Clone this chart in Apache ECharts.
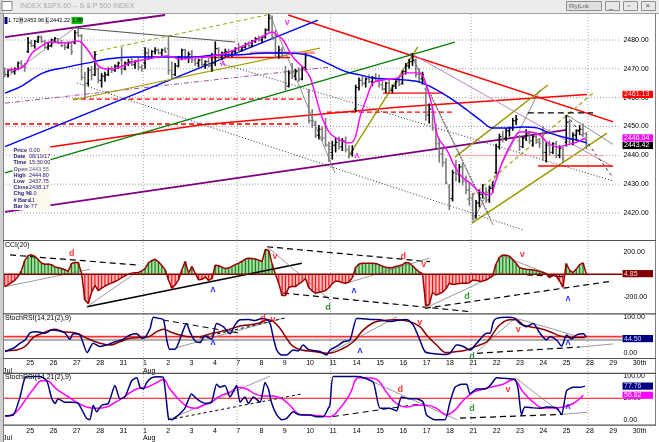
<!DOCTYPE html>
<html><head><meta charset="utf-8">
<script src="https://cdn.jsdelivr.net/npm/echarts@6/dist/echarts.min.js"></script>
<style>html,body{margin:0;padding:0;background:#fff;}#c{width:659px;height:442px;}</style>
</head><body><div id="c"></div>
<script>
// ---------- DATA ----------
const dayLabels = ['', '25','26','27','28','31','1','2','3','4','7','8','9','10','11','14','15','16','17','18','21','22','23','24','25','28','29','30th'];
const monthLabels = ['Jul','','','','','','Aug'];
const vGridDays = [6, 10, 14, 20, 25];
const priceGridLevels = [2420, 2430, 2440, 2450, 2460, 2470, 2480];

// hourly OHLC bars [open, high, low, close], 7 per day, Jul 24 .. Aug 25
const priceBars = [
[2469,2470.5,2467,2468],[2468,2470,2467,2469.5],[2469.5,2470.5,2468.5,2469],[2469,2470.5,2468,2470],[2470,2472.5,2469.5,2472],[2472,2473,2470.5,2471],[2471,2472,2469,2470.5],
[2476,2481,2475.5,2479],[2479,2480,2477.5,2478],[2478,2480,2477,2479.5],[2479.5,2481.5,2479,2481],[2481,2481.5,2479,2479.5],[2479.5,2480,2477,2477.5],[2477.5,2479,2476.5,2478],
[2478,2480.5,2477.5,2480],[2480,2481,2479,2480.5],[2480.5,2480.5,2478.5,2479],[2479,2480,2477.5,2478],[2478,2479,2476.5,2477.5],[2477.5,2479.5,2477,2479],[2479,2479.5,2474.8,2476],
[2479,2483.5,2478.5,2482.5],[2482.5,2484,2481,2481.5],[2481.5,2482,2466,2467],[2467,2469,2459.5,2465],[2465,2470.5,2464,2469.5],[2469.5,2471,2466,2468],[2468,2476,2467.5,2475],
[2470,2470.5,2465,2466],[2466,2468.5,2463.5,2467.5],[2467.5,2469,2465.5,2468],[2468,2470.5,2467.5,2470],[2470,2471,2468.5,2469.5],[2469.5,2471.5,2469,2471],[2471,2472.5,2470,2472],
[2473,2477.5,2468,2470],[2470,2472.5,2469.5,2472],[2472,2473.5,2471,2472.5],[2472.5,2474,2471,2471.5],[2471.5,2473,2470,2472.5],[2472.5,2474,2469.5,2470.5],[2470.5,2471.5,2469,2470],
[2472,2477.5,2470,2475.5],[2475.5,2477,2473,2474],[2474,2476.5,2473.5,2476],[2476,2477.5,2475,2476.5],[2476.5,2477,2475,2475.5],[2475.5,2477,2474.5,2476.5],[2476.5,2477.5,2475.5,2476],
[2477,2481,2468,2469.5],[2469.5,2472.5,2466.5,2468],[2468,2472,2467.5,2471],[2471,2474.5,2470.5,2474],[2474,2477,2473,2476.5],[2476.5,2477,2473,2474],[2474,2476,2472,2475],
[2475,2476.5,2472,2473],[2473,2474.5,2471,2472],[2472,2473.5,2470.5,2473],[2473,2474,2471,2471.5],[2471.5,2473,2470,2472.5],[2472.5,2474,2470.5,2471],[2471,2475.5,2469,2472],
[2472,2479.5,2471,2477],[2477,2477.5,2473.5,2474],[2474,2476,2473,2475.5],[2475.5,2477,2474,2476],[2476,2477,2474.5,2475],[2475,2476.5,2474,2476],[2476,2477.5,2475.5,2477],
[2477,2479,2475.5,2476.5],[2476.5,2478,2476,2477.5],[2477.5,2479,2477,2478.5],[2478.5,2479.5,2477.5,2478],[2478,2480,2477.5,2479.5],[2479.5,2481,2479,2480.5],[2480.5,2481.5,2479.5,2480],
[2480,2481.5,2479,2481],[2481,2484,2480.5,2483.5],[2483.5,2489,2483,2487.5],[2487.5,2488.5,2480,2481],[2481,2483.5,2474,2475.5],[2475.5,2478,2473.5,2476.5],[2476.5,2477.5,2473.5,2474.5],
[2469,2471,2462.5,2464],[2464,2469.5,2463.5,2468.5],[2468.5,2472,2466.5,2467.5],[2467.5,2470,2466,2469],[2469,2470.5,2465.5,2466.5],[2466.5,2471,2466,2470.5],[2470.5,2475.5,2469.5,2474.5],
[2462,2463,2451,2452],[2452,2456,2449.5,2450.5],[2450.5,2452,2446,2447],[2447,2450.5,2445.5,2449],[2449,2450,2445,2446],[2446,2453,2443,2443.55],[2443.55,2444.8,2437.75,2438.17],
[2441,2445,2438.5,2443.5],[2443.5,2446,2441,2444.5],[2444.5,2446.5,2442,2443],[2443,2446,2441.5,2445],[2445,2446.5,2441,2442],[2442,2443.5,2439,2440.5],[2440.5,2443.5,2439.5,2442],
[2456,2464.5,2455,2463.5],[2463.5,2467,2462.5,2466],[2466,2467.5,2464,2465],[2465,2467,2463.5,2466.5],[2466.5,2468,2465,2465.5],[2465.5,2467.5,2464,2467],[2467,2468.5,2465.5,2466],
[2466,2468,2463.5,2464.5],[2464.5,2466.5,2462.5,2463],[2463,2465.5,2461.5,2465],[2465,2466.5,2462,2462.5],[2462.5,2464.5,2461.5,2464],[2464,2466,2463,2465.5],[2465.5,2467,2464,2464.5],
[2465,2469.5,2464.5,2469],[2469,2472,2468,2471],[2471,2473.5,2470,2472.5],[2472.5,2475.5,2471,2473],[2473,2473.5,2467,2468],[2468,2470,2465,2466.5],[2466.5,2469,2464.5,2468],
[2463,2463.5,2452,2454],[2454,2458,2451,2456],[2456,2457,2448.5,2449.5],[2449.5,2451,2442.5,2444],[2444,2446,2437.5,2440.5],[2440.5,2442.5,2436,2437.5],[2437.5,2439,2430,2430.5],
[2429,2430,2421,2425],[2425,2435,2424,2434],[2434,2438.5,2431,2433.5],[2433.5,2437,2430.5,2436],[2436,2437.5,2429.5,2431],[2431,2433,2426.5,2428],[2428,2430.5,2422.5,2425.5],
[2425,2427,2417.5,2419],[2419,2424.5,2418,2423.5],[2423.5,2428,2422,2426.5],[2426.5,2430,2425,2427],[2427,2429,2423.5,2424.5],[2424.5,2429.5,2423.5,2428.5],[2428.5,2431,2427,2429.5],
[2434,2444,2433.5,2443],[2443,2447.5,2442,2446.5],[2446.5,2448.5,2444.5,2446],[2446,2449.5,2445,2448.5],[2448.5,2450,2446.5,2449.5],[2449.5,2453,2448.5,2452],[2452,2454,2450.5,2452.5],
[2445,2447,2441.5,2443],[2443,2446.5,2442.5,2446],[2446,2449,2445,2447.5],[2447.5,2448.5,2444,2445],[2445,2447,2443,2446.5],[2446.5,2448,2444,2444.5],[2444.5,2446,2442.5,2444],
[2446,2450,2438,2441],[2441,2444.5,2437.5,2443.5],[2443.5,2445,2440,2441],[2441,2444.5,2440.5,2444],[2444,2445,2439,2440],[2440,2443.5,2439,2442.5],[2442.5,2443,2437.5,2439],
[2444.5,2453.96,2443,2451.5],[2451.5,2452.5,2444,2445.5],[2445.5,2448,2443.5,2447],[2447,2449,2445,2448.5],[2448.5,2450.5,2447,2449],[2449,2451,2446.5,2447.5],[2447.5,2448,2442.22,2443.42]
];

// moving averages [bar index, price]
const pinkMA = [[0.7,2469.6],[5.5,2470.6],[8.2,2475.5],[10.6,2477.6],[13.6,2479.3],[18.6,2479.0],[21.6,2479.7],[23.1,2479.0],[25.5,2475.5],[28.5,2470.6],[31.5,2469.9],[34.5,2470.6],[38.4,2472.4],[41.4,2473.1],[45.6,2474.1],[48.6,2474.5],[52.4,2473.4],[56.3,2473.8],[60.5,2474.1],[63.8,2474.8],[66.5,2475.5],[73.4,2479.0],[77.9,2481.7],[80.0,2482.8],[81.5,2481.7],[83.3,2480.0],[86.2,2474.1],[89.2,2470.6],[91.3,2467.2],[92.8,2461.6],[94.9,2453.3],[97.3,2447.7],[100.3,2445.3],[103.3,2444.3],[104.8,2446.0],[106.3,2453.3],[108.4,2460.2],[110.2,2465.1],[113.2,2466.1],[117.4,2466.8],[120.3,2468.6],[124.2,2468.6],[126.3,2463.7],[128.1,2455.7],[129.6,2446.4],[132.3,2441.8],[134.7,2436.0],[136.8,2432.5],[139.2,2430.4],[142.2,2427.3],[145.2,2426.2],[146.7,2430.4],[149.1,2438.4],[152.1,2445.3],[154.2,2448.1],[157.1,2448.1],[160.1,2447.0],[162.2,2444.6],[165.2,2442.9],[168.2,2443.6],[171.2,2444.6],[173.6,2446.04]];
const blueMA = [[0.1,2461.6],[4.6,2463.7],[11.5,2468.6],[18.6,2470.6],[24.6,2472.0],[30.6,2473.4],[38.4,2474.1],[48.6,2474.1],[56.3,2474.1],[63.8,2474.8],[68.3,2474.8],[78.5,2475.5],[84.5,2475.5],[90.4,2474.8],[96.4,2472.0],[102.4,2468.9],[106.3,2467.9],[110.2,2466.8],[114.4,2466.5],[120.3,2466.1],[124.2,2465.4],[128.1,2463.4],[133.2,2459.9],[138.3,2455.7],[142.2,2452.3],[145.8,2449.5],[150.3,2449.5],[155.1,2449.8],[159.2,2449.5],[163.1,2447.7],[168.2,2446.0],[171.2,2445.3],[174.2,2444.3]];

// CCI(20) per bar
const cciValues = [
-110,-95,-75,-55,-20,30,120, 165,172,160,130,100,88,90, 85,65,58,50,40,25,95, 104,104,9,-230,-260,-160,-100,
-145,-124,-105,-90,-78,-65,-50, -30,-15,0,9,12,15,30, 50,100,120,133,110,78,38, -50,-124,-95,-50,38,113,9,
68,9,-50,-45,-25,-55,-40, 80,75,62,50,55,70,85, 98,115,135,142,140,135,125, 113,220,210,90,0,-80,-190,
-190,-115,-110,-110,-85,-65,-40, -120,-150,-169,-160,-154,-145,-120, -85,-60,-65,-75,-80,-70,-30,
60,90,98,98,98,98,95, 85,70,62,55,60,68,75, 85,105,100,75,45,20,5, -280,-270,-160,-185,-175,-160,-130,
-80,-92,-88,-82,-80,-80,-75, -52,-55,-62,-60,-52,-35,-10, 90,150,170,168,160,130,95,
58,50,45,42,38,32,25, 15,5,-30,-10,-18,-60,-115, 95,35,15,45,85,100,4.85];

// StochRSI(14,21(2),9)
const srsiFast = [[0.1,5],[2.6,14],[4.6,28],[6.1,37],[7.6,57],[9.6,60],[12.1,56],[14.1,65],[16.0,63],[18.0,57],[19.5,39],[20.5,54],[22.5,51],[24.7,2],[26.5,28],[28.5,19],[30.5,23],[33.0,32],[35.5,39],[37.5,51],[39.5,54],[41.0,42],[42.0,44],[43.5,69],[44.5,100],[46.0,97],[47.5,93],[48.5,37],[49.4,11],[50.9,11],[52.9,51],[54.4,83],[55.4,60],[56.9,35],[58.4,30],[59.9,48],[61.9,39],[63.4,83],[65.4,74],[67.4,54],[68.9,79],[70.4,93],[72.9,94],[74.9,91],[76.9,97],[78.4,94],[79.4,83],[80.4,42],[81.4,9],[82.9,-5],[84.3,-5],[86.3,9],[87.8,7],[89.3,23],[90.8,11],[92.8,7],[94.3,5],[96.3,-5],[97.3,9],[99.3,19],[101.3,32],[103.3,37],[105.3,97],[106.3,97],[109.3,94],[112.3,93],[115.2,88],[117.2,91],[120.2,94],[122.2,79],[124.2,37],[125.7,5],[127.2,0],[131.2,-3],[133.2,0],[135.2,23],[137.2,19],[139.2,9],[141.2,28],[144.2,56],[145.2,56],[146.2,88],[147.2,97],[150.1,100],[152.6,97],[154.1,83],[156.1,74],[158.1,83],[160.1,56],[162.1,37],[163.1,46],[165.1,37],[166.6,20],[168.1,51],[169.6,39],[171.1,51],[173.1,54],[174.0,44.5]];
const srsiSlow = [[0.1,7],[3.6,9],[6.1,19],[8.6,44],[11.6,57],[15.0,67],[17.5,60],[21.5,56],[24.5,42],[28.5,28],[31.5,23],[34.5,32],[37.5,42],[40.5,44],[43.0,46],[45.5,60],[47.5,67],[49.4,60],[52.4,51],[55.4,46],[58.4,46],[61.4,54],[64.4,60],[67.4,67],[70.4,76],[73.4,79],[76.4,85],[78.9,93],[80.4,88],[82.4,69],[84.3,42],[86.3,19],[88.8,9],[92.3,5],[96.8,0],[101.3,14],[104.3,32],[107.3,65],[110.3,85],[113.3,91],[117.2,93],[121.2,88],[124.2,74],[126.2,51],[129.2,23],[132.2,2],[135.2,5],[138.2,9],[141.2,20],[144.2,32],[146.2,56],[148.1,79],[151.1,93],[153.1,93],[155.1,79],[157.1,74],[160.1,69],[163.1,60],[166.1,48],[169.1,44],[172.1,44],[173.6,44]];

// Stoch lower panel
const stochFast = [[0.1,10],[2.6,12],[4.6,53],[6.1,97],[8.1,100],[10.6,100],[12.6,90],[14.1,49],[15.1,38],[16.0,49],[18.0,41],[20.0,41],[22.0,38],[24.5,4],[25.5,1],[26.5,34],[27.5,19],[29.0,34],[31.0,38],[33.0,79],[34.5,49],[36.0,53],[38.0,90],[39.5,97],[40.5,75],[41.5,71],[42.5,86],[44.0,97],[46.0,99],[47.5,97],[49.0,4],[49.9,1],[51.4,8],[53.9,27],[55.9,60],[57.4,49],[58.9,41],[60.4,38],[61.9,41],[63.4,82],[64.4,75],[65.9,79],[67.4,53],[69.4,79],[70.4,41],[71.9,53],[72.9,38],[74.4,53],[76.4,41],[77.9,86],[78.9,71],[79.9,38],[81.4,12],[82.9,1],[84.3,4],[86.3,19],[87.8,13],[89.3,12],[91.3,12],[93.3,8],[95.3,8],[96.8,27],[97.3,34],[98.3,100],[101.3,100],[105.3,100],[107.3,97],[110.3,86],[112.3,27],[115.2,27],[117.2,21],[118.7,53],[120.7,49],[123.2,49],[125.2,41],[126.2,12],[128.7,1],[131.7,1],[133.2,41],[134.7,75],[136.7,82],[138.2,82],[139.2,60],[141.2,71],[143.7,71],[145.2,79],[147.2,97],[150.1,95],[152.6,93],[153.6,71],[154.6,12],[155.6,30],[158.1,28],[160.1,27],[162.1,30],[165.1,28],[166.6,13],[168.1,67],[170.1,75],[172.1,75],[173.6,77.76]];
const stochSlow = [[0.1,8],[3.1,16],[6.1,45],[8.6,71],[11.1,90],[12.6,90],[15.5,71],[18.5,56],[21.5,41],[24.5,30],[27.5,27],[30.5,30],[32.5,38],[35.0,49],[37.0,60],[39.5,71],[42.5,75],[45.0,84],[47.5,93],[49.4,71],[52.4,45],[54.9,30],[57.4,27],[59.4,34],[61.9,41],[64.4,55],[67.4,64],[69.9,75],[72.4,71],[74.9,60],[77.4,55],[80.4,55],[82.9,49],[85.3,34],[88.3,13],[91.3,12],[94.3,10],[97.3,8],[100.3,27],[103.3,60],[105.8,97],[108.3,97],[111.3,93],[114.2,64],[117.2,38],[120.2,30],[123.2,34],[126.2,34],[129.2,27],[132.2,12],[134.7,23],[137.2,45],[140.2,64],[143.2,71],[146.2,77],[149.1,82],[152.1,93],[155.1,64],[158.1,41],[161.1,28],[164.1,28],[167.1,30],[170.1,38],[173.1,56.82]];

// trendlines (endpoints in bar index / value units)
const priceTrendlines = [
[[0.1,2481.0],[48,2488.7]], [[84.8,2488.7],[183.2,2451.2]], [[13.6,2442.9],[58.4,2450.5],[118.3,2456.8],[174.2,2461.13]],
[[0.1,2450.9],[88.3,2450.9]], [[20.4,2459.5],[89.2,2459.5]], [[0.1,2433.9],[134.7,2479.3]], [[0.1,2420.4],[168.2,2448.8]],
[[0.1,2458.1],[96.9,2470.6]], [[0.1,2443.0],[93.7,2486.9]], [[26.4,2475.8],[78.5,2488.7]], [[20.4,2459.2],[94.3,2477.2]],
[[102.7,2439.4],[123.6,2477.6]], [[134.7,2439.4],[162.5,2464.4]], [[139.8,2416.5],[180.2,2447.7]], [[138.3,2424.5],[176.0,2461.6]],
[[21.6,2465.1],[155.1,2414.1]], [[64.4,2472.0],[184.1,2430.4]], [[21.0,2484.2],[68.9,2479.3]], [[0.7,2467.2],[21.0,2484.2]],
[[79.4,2488.7],[98.8,2433.9]], [[121.3,2475.5],[146.1,2415.8]], [[122.1,2474.1],[145.2,2418.6]], [[121.3,2475.5],[182,2436.0]],
[[139.8,2416.5],[160.1,2462.7]], [[168.2,2454.0],[183.2,2442.9]], [[168.2,2454.0],[183.2,2430.4]], [[156.5,2454.7],[176.0,2454.7]],
[[61.4,2473.9],[85.4,2473.9]], [[73.4,2475.6],[92.8,2475.6]], [[113.2,2461.6],[131.1,2461.6]], [[96.4,2455.0],[133.8,2455.0]],
[[159.5,2436.3],[184.1,2436.3]], [[136.2,2439.9],[179.0,2439.9]]
];
const cciTrendlines = [
[[1.6,171],[39.6,82]], [[0.1,-111],[25.5,44]], [[24.6,-289],[88.9,97]], [[24.6,-289],[39.6,20]],
[[78.5,244],[127.2,111]], [[78.5,244],[97.3,-229]], [[83.3,-167],[139.2,-333]], [[125.7,-303],[182.0,-60]],
[[125.7,-303],[149.1,22]], [[148.2,171],[162.2,8]], [[156.2,-7],[167.0,-22]], [[102.4,-78],[127.2,144]]
];
const srsiTrendlines = [
[[47.4,92.5],[70.4,55.6]], [[51.0,14.7],[83.3,98]], [[58.4,42.5],[83.9,98]], [[97.3,1.7],[117.4,101.7]],
[[141.3,0],[172.1,17.5]], [[172.1,17.5],[184.1,27.8]], [[141.3,4.4],[152.7,98]], [[152.7,98],[173.0,42.5]]
];
const stochTrendlines = [
[[48.9,0.7],[79.4,100.7]], [[48.9,0.7],[88.9,60]], [[98.2,8.2],[125.1,37.8]], [[106.3,100.7],[135.3,0.7]],
[[136.2,4.4],[167.0,13.3]], [[167.0,13.3],[174.2,17.8]], [[152.7,97],[167.0,13.3]]
];

// signal letters [bar, value, text, kind]
const priceMarks = [[84.5,2486.2,'v','m'],[105.4,2440.1,'ʌ','m'],[65.3,2472.0,'ʌ','m']];
const cciMarks = [[20.1,188,'d','r'],[80.9,156,'v','r'],[62.3,-140,'ʌ','b'],[96.7,-300,'d','g'],[119.2,156,'d','r'],[125.4,82,'v','r'],[104.5,-149,'ʌ','b'],[138.3,-200,'d','g'],[154.8,171,'v','r'],[168.5,-220,'ʌ','b']];
const srsiMarks = [[62.3,29,'ʌ','b'],[77.3,98,'d','r'],[80.3,95,'v','r'],[106.3,9,'ʌ','b'],[124.2,85,'v','r'],[139.8,-9,'d','g'],[153.6,65,'v','r'],[168.5,29,'ʌ','b']];
const stochMarks = [[118.3,71,'d','r'],[139.8,27,'d','g'],[150.6,71,'v','r'],[168.5,31,'ʌ','b']];

// current-value tags
const priceTags = [[2461.13,'2461.13'],[2446.04,'2446.04'],[2443.42,'2443.42']];
const cciTag = [4.85,'4.85'];
const srsiTag = [44.5,'44.50'];
const stochTags = [[77.76,'77.76'],[56.82,'56.82']];

const infoRows = [['Price','0.00'],['Date','08/10/17'],['Time','15:30:00'],['Open','2443.55'],['High','2444.80'],['Low','2437.75'],['Close','2438.17'],['Chg %','0.0'],['# Bars','11'],['Bar Ix','-77']];
const headerVals = ['1.72','2453.96','2442.22','1.88'];

// ---------- STYLES ----------
const priceTrendStyles = [
['#800080',2,'solid'],['#ff0000',1.5,'solid'],['#ff0000',1.5,'solid'],
['#ff0000',1.5,[5,3]],['#ff0000',1.2,[5,3]],['#008000',1.3,'solid'],['#800080',1.8,'solid'],
['#a050a0',1,[5,2,1,2]],['#0000ff',1.5,'solid'],['#a0a000',1,[4,3]],['#a0a000',1.2,'solid'],
['#999900',1.4,'solid'],['#999900',1.5,'solid'],['#999900',1.5,'solid'],['#b0b040',1.5,[4,3]],
['#303030',1,[1,2]],['#303030',1,[1,2]],['#505050',1,'solid'],['#808080',0.8,'solid'],
['#707070',0.8,'solid'],['#707070',0.8,'solid'],['#303030',1,[1,2]],['#c080c0',1,'solid'],
['#707070',0.8,'solid'],['#707070',0.8,'solid'],['#303030',1,[3,3]],['#000000',1.3,[6,4]],
['#ff0000',1.5,'solid'],['#ff9090',2.5,'solid'],['#ff0000',1.3,'solid'],['#ff0000',1.3,[5,3]],
['#ff0000',1.5,'solid'],['#ffa0a0',1,'solid']
];
const cciTrendStyles = [['#000',1.2,[6,4]],['#808080',0.8,'solid'],['#000',1.6,'solid'],['#808080',0.8,'solid'],['#000',1.2,[6,4]],['#808080',0.8,'solid'],['#000',1.2,[6,4]],['#000',1.2,[6,4]],['#808080',0.8,'solid'],['#808080',0.8,'solid'],['#000',1.2,[6,4]],['#808080',0.8,'solid']];
const srsiTrendStyles = [['#000',1,[6,4]],['#808080',0.8,'solid'],['#000',1,[3,3]],['#808080',0.8,'solid'],['#000',1.2,[6,4]],['#808080',0.8,'solid'],['#808080',0.8,'solid'],['#808080',0.8,'solid']];
const stochTrendStyles = [['#808080',0.8,'solid'],['#000',1,[3,3]],['#000',1,[6,4]],['#808080',0.8,'solid'],['#000',1.2,[6,4]],['#808080',0.8,'solid'],['#808080',0.8,'solid']];
const markColors = {m:'#ff00ff', r:'#ff0000', b:'#0000ff', g:'#008000'};
const FONT = 'Liberation Sans, Arial, sans-serif';

// ---------- CHART ----------
const chart = echarts.init(document.getElementById('c'), null, {width:659, height:442});

function trendSeries(lines, styles, axis) {
  return lines.map((pts, i) => ({
    type:'line', xAxisIndex:axis, yAxisIndex:axis, data:pts, symbol:'none', silent:true, z:2,
    lineStyle:{color:styles[i][0], width:styles[i][1], type:styles[i][2]}
  }));
}
function markSeries(marks, axis, size) {
  return {
    type:'scatter', xAxisIndex:axis, yAxisIndex:axis, symbolSize:1, silent:true, z:6,
    itemStyle:{color:'rgba(0,0,0,0)'},
    data: marks.map(m => ({value:[m[0], m[1]], name:m[2], label:{color:markColors[m[3]]}})),
    label:{show:true, position:'inside', formatter:'{b}', fontSize:size, fontWeight:'bold', fontFamily:FONT}
  };
}
const hiddenX = (g) => ({gridIndex:g, type:'value', min:-0.5, max:181.5, show:false});
const dateX = (g, margin) => ({
  gridIndex:g, type:'value', min:-0.5, max:195.5, interval:7,
  axisLine:{show:false}, axisTick:{show:false}, splitLine:{show:false},
  axisLabel:{show:true, align:'left', margin:margin, fontSize:7, lineHeight:7.5, color:'#000', fontFamily:FONT,
    showMinLabel:true, showMaxLabel:true, hideOverlap:false,
    formatter: v => { const d = Math.round((v + 0.5) / 7); return (dayLabels[d] || '') + '\n' + (monthLabels[d] || ''); }}
});
const valY = (g, min, max, interval, show) => ({
  gridIndex:g, type:'value', position:'right', min:min, max:max, interval:interval,
  axisLine:{show:false}, axisTick:{show:false}, splitLine:{show:false},
  axisLabel:{margin:12, fontSize:7, color:'#000', fontFamily:FONT, showMinLabel:true, showMaxLabel:true,
    formatter: v => show.indexOf(v) >= 0 ? v.toFixed(2) : ''}
});

const ohlcData = priceBars.map((b, i) => [i, b[0], b[1], b[2], b[3]]);
const cciData = cciValues.map((v, i) => [i, v]);

const series = [];
series.push(...trendSeries(priceTrendlines, priceTrendStyles, 0));
series.push({
  type:'custom', xAxisIndex:0, yAxisIndex:0, data:ohlcData, z:3, silent:true,
  encode:{x:0, y:[1,2,3,4]},
  renderItem:(params, api) => {
    const i = api.value(0), o = api.value(1), h = api.value(2), l = api.value(3), c = api.value(4);
    const t = api.coord([i, h]), b = api.coord([i, l]), po = api.coord([i, o]), pc = api.coord([i, c]);
    const half = api.size([1, 0])[0] * 0.48;
    const col = c >= o ? '#000000' : '#7a7a7a';
    return {type:'group', children:[
      {type:'line', shape:{x1:t[0], y1:t[1], x2:b[0], y2:b[1]}, style:{stroke:col, lineWidth:1.6}},
      {type:'line', shape:{x1:po[0]-half, y1:po[1], x2:po[0], y2:po[1]}, style:{stroke:col, lineWidth:1.2}},
      {type:'line', shape:{x1:pc[0], y1:pc[1], x2:pc[0]+half, y2:pc[1]}, style:{stroke:col, lineWidth:1.2}}
    ]};
  }
});
series.push({type:'line', xAxisIndex:0, yAxisIndex:0, data:blueMA, symbol:'none', smooth:0.35, silent:true, z:4, lineStyle:{color:'#0000ff', width:1.4}});
series.push({type:'line', xAxisIndex:0, yAxisIndex:0, data:pinkMA, symbol:'none', smooth:0.35, silent:true, z:4, lineStyle:{color:'#ff00ff', width:1.4}});
series.push(markSeries(priceMarks, 0, 9));

// CCI
series.push({
  type:'custom', xAxisIndex:1, yAxisIndex:1, data:cciData, z:2, silent:true, encode:{x:0, y:1},
  renderItem:(params, api) => {
    const i = api.value(0), v = api.value(1);
    const p0 = api.coord([i, 0]), p1 = api.coord([i, v]);
    const w = api.size([1, 0])[0];
    const pos = v >= 0;
    return {type:'group', children:[
      {type:'rect', shape:{x:p0[0]-w/2, y:Math.min(p0[1], p1[1]), width:w, height:Math.abs(p1[1]-p0[1])}, style:{fill: pos ? '#9fd49f' : '#ffb0b0'}},
      {type:'line', shape:{x1:p0[0], y1:p0[1], x2:p1[0], y2:p1[1]}, style:{stroke: pos ? '#008000' : '#ff0000', lineWidth:1}}
    ]};
  }
});
series.push({type:'line', xAxisIndex:1, yAxisIndex:1, data:cciData, symbol:'none', silent:true, z:4, lineStyle:{color:'#990000', width:1.5}});
series.push(...trendSeries(cciTrendlines, cciTrendStyles, 1));
series.push(markSeries(cciMarks, 1, 9));

// StochRSI
series.push({type:'line', xAxisIndex:2, yAxisIndex:2, data:srsiSlow, symbol:'none', smooth:0.4, silent:true, z:4, lineStyle:{color:'#8b0000', width:1.5}});
series.push({type:'line', xAxisIndex:2, yAxisIndex:2, data:srsiFast, symbol:'none', smooth:0.25, silent:true, z:4, lineStyle:{color:'#000080', width:1.5}});
series.push(...trendSeries(srsiTrendlines, srsiTrendStyles, 2));
series.push(markSeries(srsiMarks, 2, 9));

// Stoch
series.push({type:'line', xAxisIndex:4, yAxisIndex:4, data:stochSlow, symbol:'none', smooth:0.4, silent:true, z:4, lineStyle:{color:'#ff00ff', width:1.5}});
series.push({type:'line', xAxisIndex:4, yAxisIndex:4, data:stochFast, symbol:'none', smooth:0.2, silent:true, z:4, lineStyle:{color:'#000080', width:1.5}});
series.push(...trendSeries(stochTrendlines, stochTrendStyles, 4));
series.push(markSeries(stochMarks, 4, 9));

chart.setOption({
  animation:false,
  backgroundColor:'#ffffff',
  textStyle:{fontFamily:FONT},
  grid:[
    {left:3, top:11.17, width:608.4, height:230.64},
    {left:3, top:240.45, width:608.4, height:78.75},
    {left:3, top:299.3, width:608.4, height:72},
    {left:3, top:357, width:655.2, height:1},
    {left:3, top:354.5, width:608.4, height:90},
    {left:3, top:424.5, width:655.2, height:1}
  ],
  xAxis:[hiddenX(0), hiddenX(1), hiddenX(2), dateX(3, 1.5), hiddenX(4), dateX(5, 2.5)],
  yAxis:[
    valY(0, 2410, 2490, 10, priceGridLevels),
    valY(1, -400, 300, 200, [200, -200]),
    valY(2, -50, 150, 50, [0, 100]),
    {gridIndex:3, type:'value', show:false},
    valY(4, -50, 150, 50, [0, 50, 100]),
    {gridIndex:5, type:'value', show:false}
  ],
  series:series
});

// ---------- overlay graphics (positions from the axes) ----------
const py = (ax, v) => chart.convertToPixel({yAxisIndex:ax}, v);
const px = (ax, v) => chart.convertToPixel({xAxisIndex:ax}, v);
const els = [];
const hline = (x1, x2, y, stroke, lw, dash, z) => els.push({type:'line', silent:true, z:z, shape:{x1:x1, y1:y, x2:x2, y2:y}, style:{stroke:stroke, lineWidth:lw, lineDash:dash}});
const vline = (x, y1, y2, stroke, lw, dash, z) => els.push({type:'line', silent:true, z:z, shape:{x1:x, y1:y1, x2:x, y2:y2}, style:{stroke:stroke, lineWidth:lw, lineDash:dash}});
const txt = (x, y, s, fill, size, weight) => els.push({type:'text', silent:true, z:70, x:x, y:y, style:{text:s, fill:fill, fontSize:size, fontFamily:FONT, verticalAlign:'middle', fontWeight:weight || 'normal'}});
const rect = (x, y, w, h, fill, stroke, z) => els.push({type:'rect', silent:true, z:z, shape:{x:x, y:y, width:w, height:h}, style:{fill:fill, stroke:stroke || null, lineWidth:1}});

priceGridLevels.forEach(v => hline(3, 621, py(0, v), '#9a9a9a', 1, [1, 2], 0));
vGridDays.forEach(d => { const x = px(0, d * 7 - 0.5); vline(x, 14, 425, '#a8a8a8', 1, [1, 2], 0); });

hline(3, 622, py(1, 0), '#800000', 1.5, null, 3);
hline(3, 622, py(2, 45), '#ff9a9a', 2.5, null, 1);
hline(3, 622, py(2, 47), '#ff2020', 1, null, 1);
hline(3, 622, py(2, 37), '#606060', 1, null, 1);
hline(3, 622, py(4, 50), '#ff0000', 1.2, null, 1);

// window / panel frames
rect(0, 0, 659, 13, '#ececec', null, 60);
hline(0, 659, 13.5, '#a0a0a0', 1, null, 61);
rect(0, 0, 3, 442, '#cfcfcf', null, 60);
vline(3.5, 13, 442, '#808080', 1, null, 61);
vline(655.5, 13, 425, '#808080', 1, null, 61);
[240.5, 313.8, 358.5, 373.3, 425.2].forEach(y => hline(3, 656, y, '#505050', 1.2, null, 61));
txt(5, 245.5, 'CCI(20)', '#000', 7);
txt(5, 318.5, 'StochRSI(14,21(2),9)', '#000', 7);
txt(5, 377.5, 'StochRSI(14,21(2),9)', '#000', 7);

// title bar
rect(2, 1.5, 10, 9, '#ffffff', '#808080', 62);
txt(20, 6.5, 'INDEX $SPX.60 -- S & P 500 INDEX', '#a8a8a8', 7);
rect(566.5, 1.5, 35, 9, '#e0e0e0', '#909090', 62);
txt(569, 6, 'Rly|Lnk', '#606060', 6);
rect(605.5, 1.5, 14, 9, '#e8e8e8', '#909090', 62);
rect(623.5, 1.5, 14, 9, '#e8e8e8', '#909090', 62);
rect(641.5, 1.5, 14, 9, '#e8e8e8', '#909090', 62);
txt(609, 6, '_', '#404040', 7); txt(627.5, 6, '▫', '#404040', 7); txt(645.5, 6, '×', '#404040', 8);

// header strip
rect(4.5, 17, 3, 7, '#000080', null, 62);
txt(8, 20.5, headerVals[0], '#000', 5.6);
rect(19, 17, 4, 7, '#c8c8c8', null, 62); txt(19.6, 20.5, 'H', '#000', 5.5);
txt(24, 20.5, headerVals[1], '#000', 5.6);
rect(45, 17, 4, 7, '#c8c8c8', null, 62); txt(45.8, 20.5, 'L', '#000', 5.5);
txt(50, 20.5, headerVals[2], '#000', 5.6);
rect(71.5, 17, 11, 7, '#00c000', null, 62); txt(72.3, 20.5, headerVals[3], '#000', 5.6);

// data window
rect(12.5, 147, 38, 63, '#fffaf0', null, 62);
infoRows.forEach((r, k) => {
  const y = 150.5 + k * 6.2;
  const col = k === 3 ? '#6060a0' : '#1a1a80';
  txt(13.5, y, r[0], col, 5.5, 'bold');
  txt(29, y, r[1], col, 5.5);
});

// value tags
function tag(ax, v, s, bg, fg, dy) {
  const y = py(ax, v) + (dy || 0);
  rect(622.5, y - 3.6, 30.5, 7.2, bg, null, 65);
  txt(624, y, s, fg, 7);
}
tag(0, priceTags[0][0], priceTags[0][1], '#ff0000', '#ffe0e0');
tag(0, priceTags[1][0], priceTags[1][1], '#ff00ff', '#ffffff');
tag(0, priceTags[2][0], priceTags[2][1], '#000000', '#ffffff');
tag(1, cciTag[0], cciTag[1], '#800000', '#ffd0d0');
tag(2, srsiTag[0], srsiTag[1], '#000080', '#d0d0ff', 1.3);
tag(4, stochTags[0][0], stochTags[0][1], '#000080', '#d0d0ff');
tag(4, stochTags[1][0], stochTags[1][1], '#ff00ff', '#ffffff');

chart.setOption({graphic:{elements:els}});
</script></body></html>
